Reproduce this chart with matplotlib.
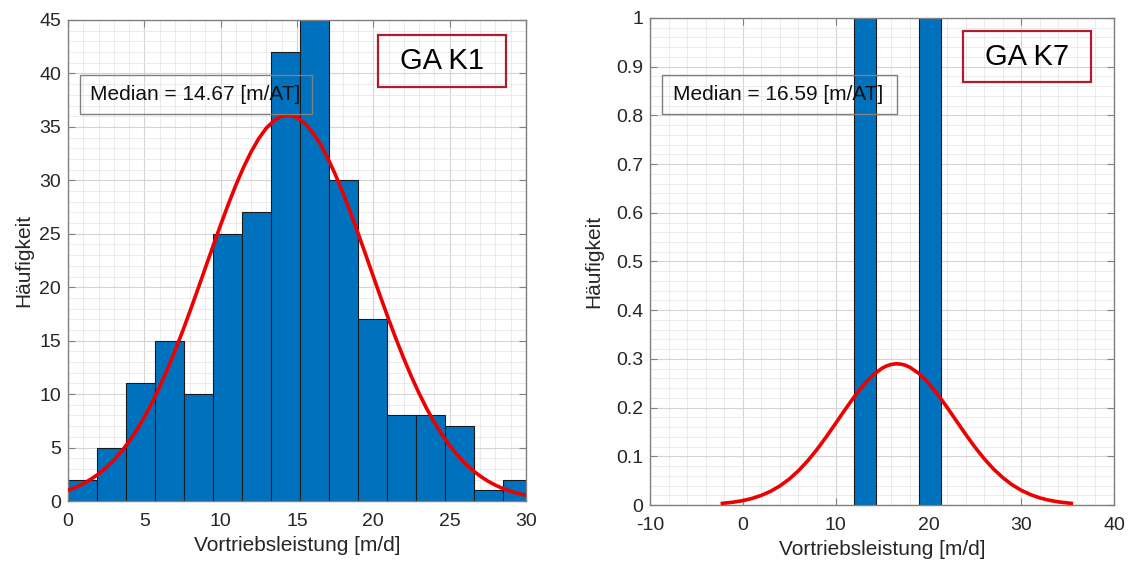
import matplotlib
matplotlib.use("Agg")
import matplotlib.pyplot as plt
from matplotlib.patches import Rectangle
from matplotlib.ticker import MultipleLocator

plt.rcParams['font.family'] = ['Liberation Sans', 'DejaVu Sans']
plt.rcParams['axes.unicode_minus'] = False

# --- left panel (GA K1): histogram counts per bin
k1_edges = [0.0, 1.9, 3.8, 5.7, 7.6, 9.5, 11.4, 13.3, 15.2, 17.1, 19.0,
            20.9, 22.8, 24.7, 26.6, 28.5, 30.4]
k1_counts = [2, 5, 11, 15, 10, 25, 27, 42, 46, 30, 17, 8, 8, 7, 1, 2]
# fitted normal curve
k1_fit_x = [0, 0.5, 1, 1.5, 2, 2.5, 3, 3.5, 4, 4.5, 5, 5.5, 6, 6.5, 7, 7.5,
            8, 8.5, 9, 9.5, 10, 10.5, 11, 11.5, 12, 12.5, 13, 13.5, 14, 14.5,
            15, 15.5, 16, 16.5, 17, 17.5, 18, 18.5, 19, 19.5, 20, 20.5, 21,
            21.5, 22, 22.5, 23, 23.5, 24, 24.5, 25, 25.5, 26, 26.5, 27, 27.5,
            28, 28.5, 29, 29.5, 30]
k1_fit_y = [1.00, 1.28, 1.62, 2.04, 2.53, 3.13, 3.82, 4.63, 5.57, 6.64, 7.85,
            9.19, 10.67, 12.28, 14.02, 15.86, 17.79, 19.79, 21.82, 23.84,
            25.84, 27.76, 29.57, 31.22, 32.68, 33.92, 34.90, 35.60, 36.00,
            36.09, 35.88, 35.35, 34.54, 33.45, 32.12, 30.58, 28.86, 27.00,
            25.05, 23.04, 21.00, 18.98, 17.01, 15.11, 13.31, 11.62, 10.06,
            8.63, 7.35, 6.20, 5.18, 4.30, 3.53, 2.88, 2.33, 1.86, 1.48, 1.16,
            0.91, 0.70, 0.54]
k1_median = "Median = 14.67 [m/AT]"

# --- right panel (GA K7)
k7_left = [11.98, 19.0]
k7_width = 2.35
k7_counts = [1, 1]
k7_fit_x = [-2.2, -1, 0, 1, 2, 3, 4, 5, 6, 7, 8, 9, 10, 11, 12, 13, 14, 15,
            15.5, 16, 16.5, 17, 17.5, 18, 19, 20, 21, 22, 23, 24, 25, 26, 27,
            28, 29, 30, 31, 32, 33, 34, 35.4]
k7_fit_y = [0.0034, 0.0059, 0.0090, 0.0135, 0.0198, 0.0282, 0.0392, 0.0532,
            0.0704, 0.0908, 0.1142, 0.1401, 0.1675, 0.1953, 0.2221, 0.2463,
            0.2663, 0.2808, 0.2856, 0.2887, 0.2900, 0.2894, 0.2871, 0.2829,
            0.2697, 0.2507, 0.2272, 0.2009, 0.1731, 0.1455, 0.1192, 0.0953,
            0.0742, 0.0564, 0.0418, 0.0302, 0.0213, 0.0146, 0.0098, 0.0064,
            0.0034]
k7_median = "Median = 16.59 [m/AT]"

W, H = 1131, 569
fig = plt.figure(figsize=(W / 100, H / 100), dpi=100)

bar_c = '#0072BD'
frame_c = '#808080'
text_c = '#262626'


def px_axes(x0, y0, x1, y1):
    # pixel box (top-left origin) -> figure axes
    return fig.add_axes([x0 / W, 1 - y1 / H, (x1 - x0) / W, (y1 - y0) / H])


def style(ax, xmaj, xmin, ymaj, ymin):
    ax.xaxis.set_major_locator(MultipleLocator(xmaj))
    ax.xaxis.set_minor_locator(MultipleLocator(xmin))
    ax.yaxis.set_major_locator(MultipleLocator(ymaj))
    ax.yaxis.set_minor_locator(MultipleLocator(ymin))
    ax.grid(which='major', color='#d4d4d4', lw=0.8)
    ax.grid(which='minor', color='#e8e8e8', lw=0.6)
    ax.set_axisbelow(True)
    for s in ax.spines.values():
        s.set_color(frame_c)
        s.set_linewidth(1.0)
    ax.tick_params(which='major', direction='in', length=5, top=True,
                   right=True, color=frame_c, labelsize=14, labelcolor=text_c)
    ax.tick_params(axis='x', which='major', pad=9)
    ax.tick_params(axis='y', which='major', pad=5)
    ax.tick_params(which='minor', length=0)
    ax.set_xlabel("Vortriebsleistung [m/d]", fontsize=15, color=text_c,
                  labelpad=4)
    ax.set_ylabel("Häufigkeit", fontsize=15, color=text_c)


def fig_box(x0, y0, x1, y1, ec, lw):
    fig.patches.append(Rectangle((x0 / W, 1 - y1 / H), (x1 - x0) / W,
                                 (y1 - y0) / H, transform=fig.transFigure,
                                 fill=False, ec=ec, lw=lw, zorder=5))


# left
ax1 = px_axes(68, 20, 526, 501)
widths = [k1_edges[i + 1] - k1_edges[i] for i in range(len(k1_counts))]
ax1.bar(k1_edges[:-1], k1_counts, width=widths, align='edge', color=bar_c,
        edgecolor='#1a1a1a', lw=0.8, zorder=2)
ax1.plot(k1_fit_x, k1_fit_y, color='#ee0000', lw=2.6, zorder=3)
ax1.set_xlim(0, 30)
ax1.set_ylim(0, 45)
style(ax1, 5, 1, 5, 1)

# right
ax2 = px_axes(650, 18, 1114, 505)
ax2.bar(k7_left, k7_counts, width=k7_width, align='edge', color=bar_c,
        edgecolor='#1a1a1a', lw=0.8, zorder=2)
ax2.plot(k7_fit_x, k7_fit_y, color='#ee0000', lw=2.6, zorder=3)
ax2.set_xlim(-10, 40)
ax2.set_ylim(0, 1)
style(ax2, 10, 2, 0.1, 0.02)
ax2.set_yticklabels(['0' if abs(v) < 1e-9 else ('1' if abs(v - 1) < 1e-9 else f'{v:.1f}')
                     for v in ax2.get_yticks()])
ax2.yaxis.set_label_coords(-0.1, 0.5)

# median boxes
fig_box(80, 75, 312, 114, '#808080', 1.0)
fig.text(90 / W, 1 - 95 / H, k1_median, fontsize=15, va='center', color='#111111')
fig_box(662, 75, 897, 114, '#808080', 1.0)
fig.text(673 / W, 1 - 95 / H, k7_median, fontsize=15, va='center', color='#111111')

# GA labels
fig_box(378, 35, 506, 87, '#b01c2e', 1.6)
fig.text(442 / W, 1 - 61 / H, "GA K1", fontsize=21, ha='center', va='center')
fig_box(963, 31, 1091, 82, '#b01c2e', 1.6)
fig.text(1027 / W, 1 - 57 / H, "GA K7", fontsize=21, ha='center', va='center')

plt.savefig("out.png", dpi=100)
